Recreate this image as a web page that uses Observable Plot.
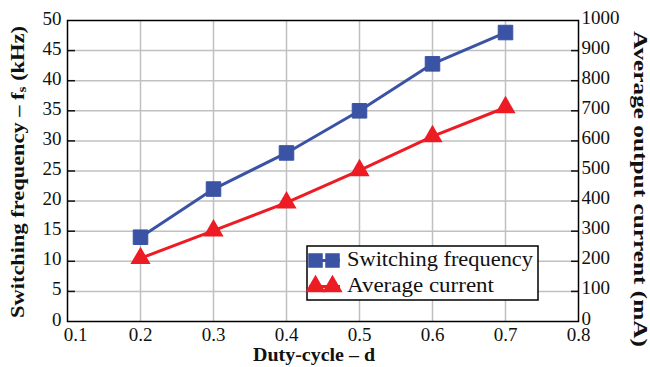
<!DOCTYPE html>
<html><head><meta charset="utf-8">
<script src="https://cdn.jsdelivr.net/npm/d3@7"></script>
<script src="https://cdn.jsdelivr.net/npm/@observablehq/plot@0.6"></script>
<style>body{margin:0;background:#fff}#chart{position:relative;width:650px;height:367px}</style>
</head><body><div id="chart"></div>
<script>
const dutyCycle = [0.2, 0.3, 0.4, 0.5, 0.6, 0.7];
const switchingFreq = [14, 22, 28, 35, 42.8, 48];
const avgCurrent = [210, 302, 395, 502, 615, 711];
const xTicks = [0.1, 0.2, 0.3, 0.4, 0.5, 0.6, 0.7, 0.8];
const yLeftTicks = [0, 5, 10, 15, 20, 25, 30, 35, 40, 45, 50];
const yRightTicks = [0, 100, 200, 300, 400, 500, 600, 700, 800, 900, 1000];
const seriesNames = ["Switching frequency", "Average current"];
const colors = ["#3A53A4", "#ED1C24"];
const ratio = 1000 / 50;

const freqData = dutyCycle.map((d, i) => ({d, v: switchingFreq[i]}));
const curData = dutyCycle.map((d, i) => ({d, v: avgCurrent[i] / ratio}));

const font = "Liberation Serif, Times New Roman, serif";
const W = 650, H = 367, mL = 67, mR = 72, mT = 20, mB = 46;

const plot = Plot.plot({
  width: W, height: H,
  marginLeft: mL, marginRight: mR, marginTop: mT, marginBottom: mB,
  style: {fontFamily: font, fontSize: "19px", color: "#111", background: "white"},
  x: {domain: [0.1, 0.8]},
  y: {domain: [0, 50]},
  marks: [
    Plot.gridX(xTicks.slice(1, -1), {stroke: "#c0c0c0", strokeOpacity: 1, strokeWidth: 1.5}),
    Plot.gridY(yLeftTicks.slice(1, -1), {stroke: "#c0c0c0", strokeOpacity: 1, strokeWidth: 1.5}),
    Plot.axisX(xTicks.slice(1), {tickSize: 0, tickPadding: 6, tickFormat: d => d.toFixed(1), label: null, fontSize: 19}),
    Plot.axisX(xTicks.slice(0, 1), {tickSize: 0, tickPadding: 6, dx: 8, tickFormat: d => d.toFixed(1), label: null, fontSize: 19}),
    Plot.axisY(yLeftTicks, {anchor: "left", tickSize: 0, tickPadding: 6, dy: -2, label: null, fontSize: 19}),
    Plot.axisY(yLeftTicks.slice(1, -1), {anchor: "left", tickSize: -8, text: null, label: null, strokeWidth: 1.5}),
    Plot.axisY(yRightTicks.map(v => v / ratio), {anchor: "right", tickSize: 0, tickPadding: 3, dy: -3, tickFormat: d => String(Math.round(d * ratio)), label: null, fontSize: 19}),
    Plot.axisY(yRightTicks.slice(1, -1).map(v => v / ratio), {anchor: "right", tickSize: -8, text: null, label: null, strokeWidth: 1.5}),
    Plot.frame({stroke: "black", strokeWidth: 1.5}),
    Plot.line(freqData, {x: "d", y: "v", stroke: colors[0], strokeWidth: 3}),
    Plot.line(curData, {x: "d", y: "v", stroke: colors[1], strokeWidth: 3}),
    Plot.dot(freqData, {x: "d", y: "v", symbol: "square", r: 8.2, fill: colors[0], stroke: colors[0], strokeWidth: 1, strokeLinejoin: "round"}),
    Plot.dot(curData, {x: "d", y: "v", symbol: "triangle", r: 7.5, fill: colors[1]})
  ]
});
document.getElementById("chart").appendChild(plot);

const svg = d3.select(plot);
// axis titles
const lt = svg.append("text")
  .attr("transform", `translate(19,172) rotate(-90)`)
  .attr("text-anchor", "middle").attr("dominant-baseline", "middle")
  .attr("font-family", font).attr("font-weight", "bold").attr("font-size", 19).attr("fill", "#111");
lt.append("tspan").text("Switching frequency – f");
lt.append("tspan").attr("font-size", 13).attr("dy", 4).text("s");
lt.append("tspan").attr("dy", -4).text(" (kHz)");
(function () {
  const len = lt.node().getComputedTextLength();
  const target = 292;
  lt.attr("transform", `translate(19,172) rotate(-90) scale(${target / len},1)`);
})();

svg.append("text")
  .attr("transform", `translate(638,189) rotate(90)`)
  .attr("text-anchor", "middle").attr("dominant-baseline", "middle")
  .attr("font-family", font).attr("font-weight", "bold").attr("font-size", 19).attr("fill", "#111")
  .attr("textLength", 316).attr("lengthAdjust", "spacingAndGlyphs")
  .text("Average output current (mA)");

svg.append("text")
  .attr("x", 314).attr("y", 361)
  .attr("text-anchor", "middle")
  .attr("font-family", font).attr("font-weight", "bold").attr("font-size", 19).attr("fill", "#111")
  .attr("textLength", 122).attr("lengthAdjust", "spacingAndGlyphs")
  .text("Duty-cycle – d");

// legend
const lg = svg.append("g").attr("transform", "translate(307,246)");
lg.append("rect").attr("width", 231).attr("height", 54).attr("fill", "white").attr("stroke", "black").attr("stroke-width", 1.5);
const symbols = [d3.symbolSquare, d3.symbolTriangle];
const sizes = [8.2, 7.5];
const textLens = [186, 147];
seriesNames.forEach((name, i) => {
  const y = 14.5 + i * 26;
  const row = lg.append("g").attr("transform", `translate(0,${y})`);
  row.append("line").attr("x1", 2).attr("x2", 33).attr("y1", 0).attr("y2", 0).attr("stroke", colors[i]).attr("stroke-width", 3);
  [8.5, 25.5].forEach(cx => {
    row.append("path").attr("d", d3.symbol(symbols[i], Math.PI * sizes[i] * sizes[i])()).attr("transform", `translate(${cx},0)`).attr("fill", colors[i]);
  });
  row.append("text").attr("x", 40).attr("y", 1).attr("dominant-baseline", "middle").attr("text-anchor", "start")
    .attr("font-family", font).attr("font-size", 20).attr("fill", "#111")
    .attr("textLength", textLens[i]).attr("lengthAdjust", "spacingAndGlyphs")
    .text(name);
});
</script>
</body></html>
